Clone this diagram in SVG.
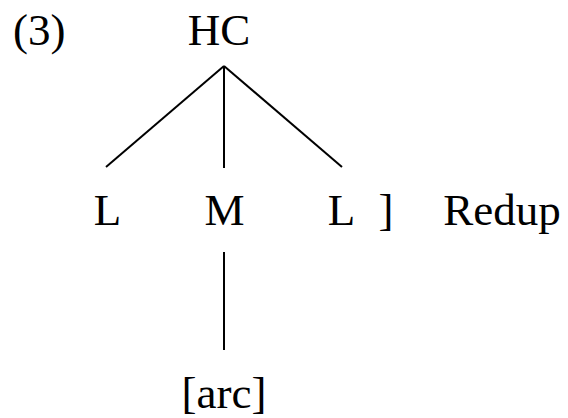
<svg xmlns="http://www.w3.org/2000/svg" width="568" height="418" viewBox="0 0 568 418">
<style>
text{font-family:"Liberation Serif","Times New Roman",serif;font-size:45px;fill:#000}
.c line{stroke:#000;stroke-width:2;stroke-linecap:butt}
</style>
<rect width="568" height="418" fill="#fff"/>
<g id="label"><text x="13" y="45">(3)</text></g>
<g id="HC"><text x="219" y="45" text-anchor="middle">HC</text></g>
<g id="L1"><text x="107.5" y="225" text-anchor="middle">L</text></g>
<g id="M"><text x="224.5" y="225" text-anchor="middle">M</text></g>
<g id="L2"><text x="341.5" y="225" text-anchor="middle">L</text></g>
<g id="bracket"><text x="386" y="225" text-anchor="middle">]</text></g>
<g id="Redup"><text x="502" y="225" text-anchor="middle">Redup</text></g>
<g id="arc"><text x="224" y="408" text-anchor="middle">[arc]</text></g>
<g class="c" id="connectors">
<line x1="224" y1="66" x2="106" y2="167"/>
<line x1="224" y1="66" x2="224" y2="168"/>
<line x1="224" y1="66" x2="342" y2="167"/>
<line x1="224" y1="252" x2="224" y2="350"/>
</g>
</svg>
